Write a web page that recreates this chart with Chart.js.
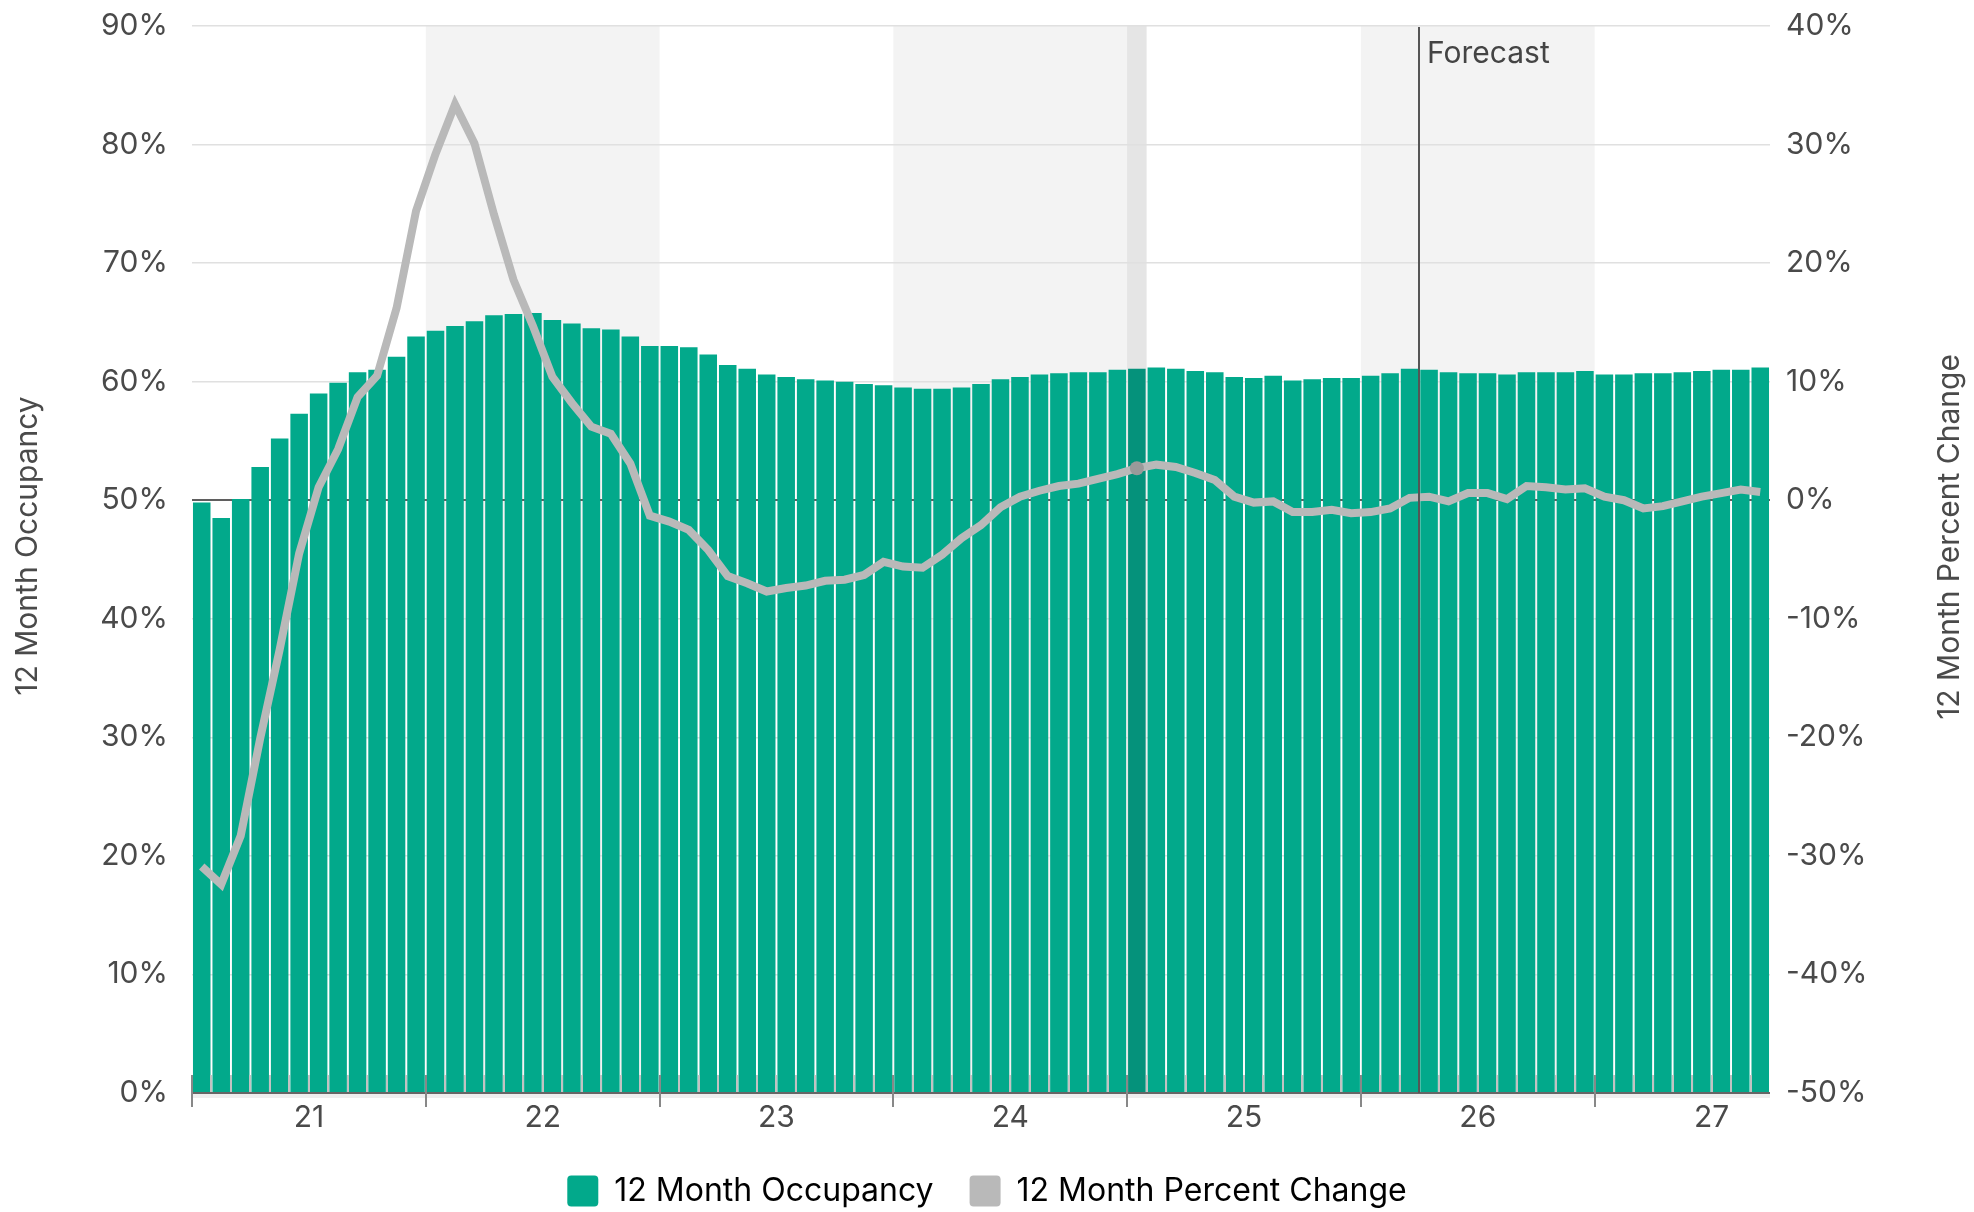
<!DOCTYPE html>
<html>
<head>
<meta charset="utf-8">
<script src="https://cdn.jsdelivr.net/npm/chart.js@4.4.1/dist/chart.umd.min.js"></script>
<style>
  html, body { margin: 0; padding: 0; background: #fff; }
  #wrap { width: 1974px; height: 1212px; }
</style>
</head>
<body>
<div id="wrap"><canvas id="chart" width="1974" height="1212"></canvas></div>
<script>
// tick labels of the year axis
const years = ['21', '22', '23', '24', '25', '26', '27'];
const monthNames = ['Jan', 'Feb', 'Mar', 'Apr', 'May', 'Jun', 'Jul', 'Aug', 'Sep', 'Oct', 'Nov', 'Dec'];

// 12 Month Occupancy (%), Jan 21 .. Sep 27
const occupancy = [
  49.8, 48.5, 50.1, 52.8, 55.2, 57.3, 59.0, 59.9, 60.8, 61.0, 62.1, 63.8,
  64.3, 64.7, 65.1, 65.6, 65.7, 65.8, 65.2, 64.9, 64.5, 64.4, 63.8, 63.0,
  63.0, 62.9, 62.3, 61.4, 61.1, 60.6, 60.4, 60.2, 60.1, 60.0, 59.8, 59.7,
  59.5, 59.4, 59.4, 59.5, 59.8, 60.2, 60.4, 60.6, 60.7, 60.8, 60.8, 61.0,
  61.1, 61.2, 61.1, 60.9, 60.8, 60.4, 60.3, 60.5, 60.1, 60.2, 60.3, 60.3,
  60.5, 60.7, 61.1, 61.0, 60.8, 60.7, 60.7, 60.6, 60.8, 60.8, 60.8, 60.9,
  60.6, 60.6, 60.7, 60.7, 60.8, 60.9, 61.0, 61.0, 61.2
];

// 12 Month Percent Change (%)
const percentChange = [
  -30.9, -32.4, -28.3, -20.1, -12.6, -4.5, 1.1, 4.3, 8.7, 10.5, 16.2, 24.4,
  29.2, 33.4, 30.1, 24.1, 18.6, 14.7, 10.4, 8.2, 6.2, 5.6, 3.1, -1.3,
  -1.8, -2.5, -4.2, -6.4, -7.0, -7.7, -7.4, -7.2, -6.8, -6.7, -6.3, -5.2,
  -5.6, -5.7, -4.6, -3.2, -2.1, -0.6, 0.3, 0.8, 1.2, 1.4, 1.8, 2.2,
  2.7, 3.0, 2.8, 2.3, 1.7, 0.3, -0.2, -0.1, -1.0, -1.0, -0.8, -1.1,
  -1.0, -0.7, 0.2, 0.3, -0.1, 0.6, 0.6, 0.1, 1.2, 1.1, 0.9, 1.0,
  0.3, 0.0, -0.7, -0.5, -0.1, 0.3, 0.6, 0.9, 0.7
];

const shadedYears = ['22', '24', '26'];
const highlightIndex = 48;  // Jan 25
const forecastStart = 63;   // Apr 26

const categories = [];
years.forEach(y => monthNames.forEach(m => {
  if (categories.length < occupancy.length) categories.push(m + ' ' + y);
}));

const TEAL = '#02a98b';
const TEAL_DARK = '#05927b';
const GREY_LINE = '#b9b9b9';
const TEXT = '#4a4a4a';
const FONT = 'Inter';

// keep the plot area exactly where the axis boxes put it
function noPadding(s) {
  s.paddingTop = 0;
  s.paddingBottom = 0;
  s.paddingLeft = 0;
  s.paddingRight = 0;
}

function axisTitle(ctx, text, x, y) {
  ctx.save();
  ctx.translate(x, y);
  ctx.rotate(-Math.PI / 2);
  ctx.fillStyle = TEXT;
  ctx.font = '30px ' + FONT;
  ctx.textAlign = 'center';
  ctx.textBaseline = 'middle';
  ctx.fillText(text, 0, 0);
  ctx.restore();
}

// bands, ticks, forecast marker and axis titles
const decorations = {
  id: 'decorations',
  beforeDraw(chart) {
    const {ctx, chartArea: a, scales: {x}} = chart;
    const w = x.getPixelForValue(1) - x.getPixelForValue(0);
    ctx.save();
    ctx.fillStyle = '#f3f3f3';
    shadedYears.forEach(y => {
      const x0 = x.getPixelForValue(years.indexOf(y) * 12) - w / 2;
      ctx.fillRect(x0, a.top, w * 12, a.bottom - a.top);
    });
    ctx.fillStyle = '#e5e5e5';
    ctx.fillRect(x.getPixelForValue(highlightIndex) - w / 2, a.top, w, a.bottom - a.top);
    ctx.restore();
  },
  afterDatasetsDraw(chart) {
    const {ctx, chartArea: a, scales: {x}} = chart;
    const w = x.getPixelForValue(1) - x.getPixelForValue(0);
    ctx.save();
    // axis line
    ctx.fillStyle = '#eeeeee';
    ctx.fillRect(a.left, a.bottom + 1, a.right - a.left, 4);
    ctx.fillStyle = '#666';
    ctx.fillRect(a.left, a.bottom - 1, a.right - a.left, 2);
    // month / year ticks
    for (let i = 0; i < occupancy.length; i++) {
      const xb = Math.round(a.left + i * w);
      if (i % 12 === 0) {
        ctx.fillStyle = '#888';
        ctx.fillRect(xb - 1, a.bottom - 18, 2, 32);
      } else {
        ctx.fillStyle = '#c2c2c2';
        ctx.fillRect(xb - 1, a.bottom - 18, 2, 17);
      }
    }
    // forecast marker
    const xf = Math.round(a.left + forecastStart * w);
    ctx.fillStyle = '#555';
    ctx.fillRect(xf - 1, a.top + 1, 2, a.bottom - a.top - 1);
    ctx.fillStyle = '#444';
    ctx.font = '30px ' + FONT;
    ctx.textAlign = 'left';
    ctx.textBaseline = 'alphabetic';
    ctx.fillText('Forecast', xf + 8, a.top + 37);
    ctx.restore();
  },
  afterDraw(chart) {
    axisTitle(chart.ctx, '12 Month Occupancy', 28, 546);
    axisTitle(chart.ctx, '12 Month Percent Change', 1950, 537);
  }
};

const ctx = document.getElementById('chart').getContext('2d');
const chart = new Chart(ctx, {
  type: 'bar',
  data: {
    labels: categories,
    datasets: [
      {
        type: 'bar',
        label: '12 Month Occupancy',
        data: occupancy,
        yAxisID: 'y',
        backgroundColor: c => c.dataIndex === highlightIndex ? TEAL_DARK : TEAL,
        borderWidth: 0,
        categoryPercentage: 1,
        barPercentage: 0.9,
        order: 2
      },
      {
        type: 'line',
        label: '12 Month Percent Change',
        data: percentChange,
        yAxisID: 'y1',
        borderColor: GREY_LINE,
        backgroundColor: GREY_LINE,
        borderWidth: 8,
        tension: 0,
        pointRadius: c => c.dataIndex === highlightIndex ? 7 : 0,
        pointBackgroundColor: '#9a9a9a',
        pointBorderWidth: 0,
        order: 1
      }
    ]
  },
  options: {
    responsive: false,
    animation: false,
    devicePixelRatio: 1,
    layout: { padding: { top: 26, bottom: -5, left: 0, right: 0 } },
    scales: {
      x: {
        type: 'category',
        offset: true,
        ticks: {
          autoSkip: false,
          maxRotation: 0,
          minRotation: 0,
          padding: 7,
          labelOffset: -9.7,   // centre the year label on the Jun/Jul boundary
          color: TEXT,
          font: { family: FONT, size: 30 },
          callback: (v, i) => i % 12 === 6 ? years[Math.floor(i / 12)] : ''
        },
        grid: { display: false, drawTicks: false },
        border: { display: false },
        afterFit: s => { noPadding(s); s.height = 46; }
      },
      y: {
        position: 'left',
        min: 0,
        max: 90,
        ticks: {
          stepSize: 10,
          padding: 24,
          color: TEXT,
          font: { family: FONT, size: 30 },
          callback: v => v + '%'
        },
        grid: { color: '#e0e0e0', lineWidth: 1.5, drawTicks: false },
        border: { display: false },
        afterFit: s => { noPadding(s); s.width = 192; }
      },
      y1: {
        position: 'right',
        min: -50,
        max: 40,
        z: 1,
        ticks: {
          stepSize: 10,
          padding: 16,
          color: TEXT,
          font: { family: FONT, size: 30 },
          callback: v => v + '%'
        },
        grid: {
          drawTicks: false,
          color: c => c.tick && c.tick.value === 0 ? '#5f5f5f' : 'rgba(0,0,0,0)',
          lineWidth: 2
        },
        border: { display: false },
        afterFit: s => { noPadding(s); s.width = 204; }
      }
    },
    plugins: {
      legend: {
        display: true,
        position: 'bottom',
        labels: {
          color: '#222',
          font: { family: FONT, size: 32 },
          boxWidth: 31,
          boxHeight: 31,
          useBorderRadius: true,
          borderRadius: 4,
          padding: 36,
          generateLabels: ch => ch.data.datasets.map((d, i) => ({
            text: d.label,
            fillStyle: i === 0 ? TEAL : GREY_LINE,
            strokeStyle: 'rgba(0,0,0,0)',
            lineWidth: 0,
            datasetIndex: i,
            borderRadius: 4
          }))
        }
      },
      tooltip: { enabled: false }
    }
  },
  plugins: [decorations]
});
</script>
</body>
</html>
